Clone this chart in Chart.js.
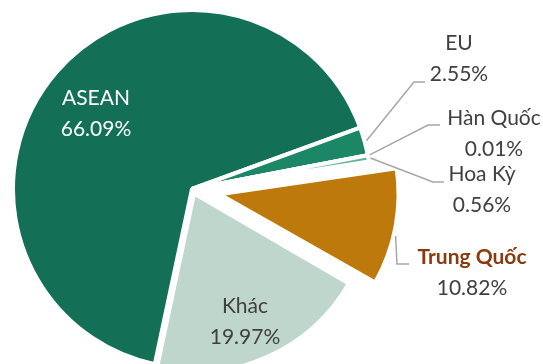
<!DOCTYPE html>
<html>
<head>
<meta charset="utf-8">
<script src="https://cdn.jsdelivr.net/npm/chart.js@4.4.0/dist/chart.umd.min.js"></script>
<style>
  html, body { margin: 0; padding: 0; background: #fff; overflow: hidden; }
  #wrap { position: relative; width: 543px; height: 364px; }
</style>
</head>
<body>
<div id="wrap"><canvas id="share-pie"></canvas></div>
<script>
const categories = ['ASEAN', 'EU', 'Hàn Quốc', 'Hoa Kỳ', 'Trung Quốc', 'Khác'];
const shares = [66.09, 2.55, 0.01, 0.56, 10.82, 19.97];
const shareLabels = ['66.09%', '2.55%', '0.01%', '0.56%', '10.82%', '19.97%'];

const sliceColors = ['#137056', '#1b8767', '#5fb39a', '#5fb39a', '#bd790b', '#bed6cb'];
// how far each slice is pulled out, in px
const sliceOffsets = [0, 0, 0, 0, 28, 5];

const textGray = '#404040';
const leaderColor = '#a6a6a6';

// where each label sits; outside labels get a leader line from the slice edge
const labelLayout = [
  { x: 96, y: 114, color: '#ffffff' },
  { x: 459, y: 59, color: textGray, leader: [[414, 82], [425, 82]] },
  { x: 494, y: 134, color: textGray, leader: [[428, 125], [440, 125]] },
  { x: 482, y: 190, color: textGray, leader: [[433, 182], [444, 182]] },
  { x: 472, y: 273, color: textGray, nameColor: '#8b3a10', bold: true, t: 0.57, leader: [[397, 264], [409, 264]] },
  { x: 245, y: 322, color: textGray },
];

// Chart.js v4 moves an arc by offset/4 and also grows its radius a bit,
// so pass 4x the offset and take the extra radius back after update
const keepRadius = {
  id: 'keepRadius',
  afterDatasetUpdate(chart) {
    chart.getDatasetMeta(0).data.forEach((arc, i) => {
      const fix = 1 - Math.sin(Math.min(Math.PI, arc.circumference || 0));
      arc.outerRadius -= sliceOffsets[i] * fix;
    });
  }
};

const sliceLabels = {
  id: 'sliceLabels',
  afterDatasetsDraw(chart) {
    const ctx = chart.ctx;
    const arcs = chart.getDatasetMeta(0).data;
    ctx.save();
    arcs.forEach((arc, i) => {
      const lay = labelLayout[i];
      const { x, y, startAngle, endAngle, outerRadius, circumference } =
        arc.getProps(['x', 'y', 'startAngle', 'endAngle', 'outerRadius', 'circumference'], true);
      if (lay.leader) {
        const mid = (startAngle + endAngle) / 2;
        const a = startAngle + (endAngle - startAngle) * (lay.t ?? 0.5);
        const cx = x + Math.cos(mid) * sliceOffsets[i];
        const cy = y + Math.sin(mid) * sliceOffsets[i];
        const fix = 1 - Math.sin(Math.min(Math.PI, circumference || 0));
        const r = outerRadius + sliceOffsets[i] * fix + 2;
        ctx.beginPath();
        ctx.moveTo(cx + Math.cos(a) * r, cy + Math.sin(a) * r);
        lay.leader.forEach(p => ctx.lineTo(p[0], p[1]));
        ctx.strokeStyle = leaderColor;
        ctx.lineWidth = 1.5;
        ctx.stroke();
      }
      ctx.textAlign = 'center';
      ctx.textBaseline = 'middle';
      ctx.font = (lay.bold ? 'bold ' : '') + '21px Lato';
      ctx.fillStyle = lay.nameColor || lay.color;
      ctx.fillText(categories[i], lay.x, lay.y - 15.5);
      ctx.font = '21px Lato';
      ctx.fillStyle = lay.color;
      ctx.fillText(shareLabels[i], lay.x, lay.y + 15.5);
    });
    ctx.restore();
  }
};

new Chart(document.getElementById('share-pie'), {
  type: 'pie',
  data: {
    labels: categories,
    datasets: [{
      data: shares,
      backgroundColor: sliceColors,
      borderColor: '#ffffff',
      borderWidth: 4,
      offset: sliceOffsets.map(o => o * 4),
      clip: false,
    }],
  },
  options: {
    responsive: true,
    maintainAspectRatio: false,
    animation: false,
    events: [],
    rotation: 192,
    radius: 179,
    layout: {
      padding: { left: 0, right: 159, top: 14, bottom: 0 },
    },
    plugins: {
      legend: { display: false },
      tooltip: { enabled: false },
    },
  },
  plugins: [keepRadius, sliceLabels],
});
</script>
</body>
</html>
